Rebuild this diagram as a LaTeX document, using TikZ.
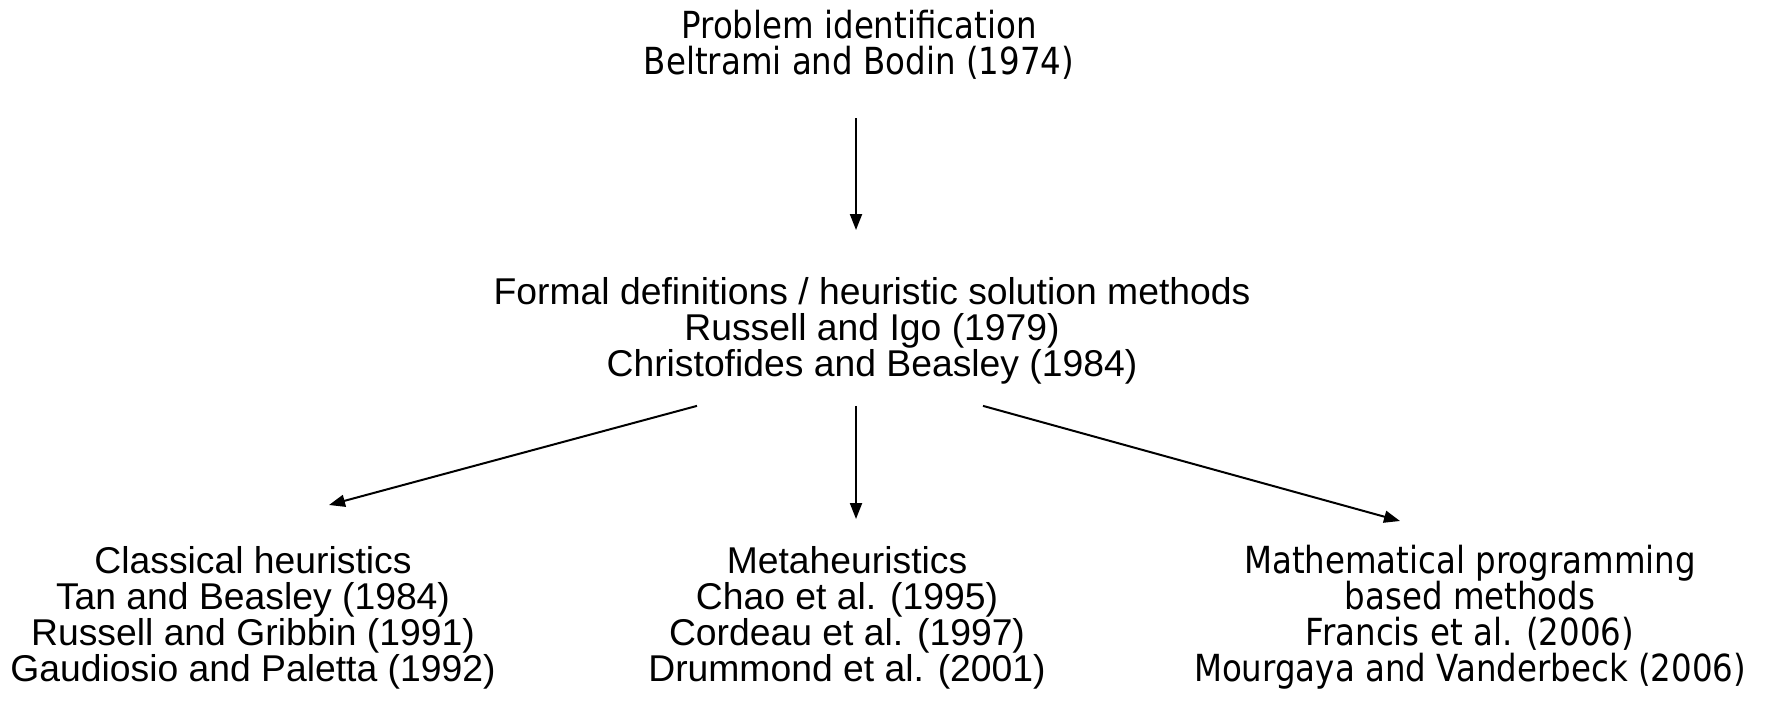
\documentclass[tikz,border=0pt]{standalone}
\usepackage{fontspec}
\setmainfont{Liberation Sans}
\newfontfamily\tahfont[FakeStretch=0.87]{DejaVu Sans}
\usetikzlibrary{arrows.meta}
\begin{document}
\begin{tikzpicture}[x=1pt,y=-1pt,
    txt/.style={align=center,inner sep=0pt,anchor=north,
      font=\fontsize{37.3}{36.1}\selectfont},
    txttah/.style={txt,font=\tahfont\fontsize{37.3}{36.1}\selectfont},
    arr/.style={line width=2pt,-{Triangle[length=16pt,width=12pt]}}]
       \useasboundingbox (0,0) rectangle (1771,705);
       % Problem
       \node[txttah] (prob) at (859,10) {Problem identification\\Beltrami and Bodin (1974)};
       % Definitionen
       \node[txt] (form) at (872,277.5) {Formal definitions / heuristic solution methods\\
         Russell and Igo (1979)\\Christofides and Beasley (1984)};
       % Loesungsverfahren
       \node[txt] (classic) at (253,546) {Classical heuristics\\Tan and Beasley (1984)\\
         Russell and Gribbin (1991)\\Gaudiosio and Paletta (1992)};
       \node[txt] (meta) at (847,546) {Metaheuristics\\Chao et al. (1995)\\
         Cordeau et al. (1997)\\Drummond et al. (2001)};
       \node[txttah] (mathprog) at (1470,545) {Mathematical programming\\based methods\\
         Francis et al. (2006)\\Mourgaya and Vanderbeck (2006)};
       %
       \draw[arr] ([shift={(-3pt,-38.6pt)}]prob.south) -- ([shift={(-16pt,47.5pt)}]form.north);
       \draw[arr] ([shift={(-175pt,-21pt)}]form.south) -- ([shift={(76pt,41pt)}]classic.north);
       \draw[arr] ([shift={(-16pt,-21pt)}]form.south) -- ([shift={(9pt,27pt)}]meta.north);
       \draw[arr] ([shift={(111pt,-21pt)}]form.south) -- ([shift={(-70pt,24pt)}]mathprog.north);
    \end{tikzpicture}
\end{document}
